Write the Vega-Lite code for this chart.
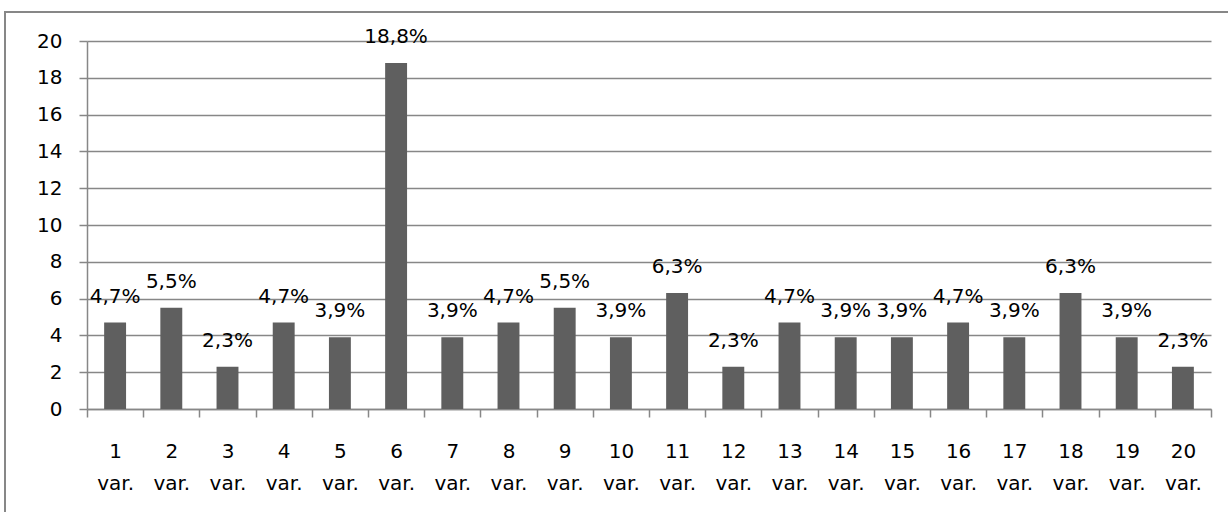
{
  "$schema": "https://vega.github.io/schema/vega-lite/v6.json",
  "width": 1223,
  "height": 500,
  "autosize": {"type": "none"},
  "padding": {"left": 5, "top": 12, "right": 0, "bottom": 0},
  "background": "white",
  "config": {
    "view": {"stroke": "#878787", "strokeWidth": 2, "strokeDash": [1223, 1723, 500]},
    "locale": {"number": {"decimal": ",", "thousands": " ", "grouping": [3], "currency": ["", ""]}},
    "font": "DejaVu Sans"
  },
  "data": {
    "values": [
      {"cat": "1", "value": 4.7},
      {"cat": "2", "value": 5.5},
      {"cat": "3", "value": 2.3},
      {"cat": "4", "value": 4.7},
      {"cat": "5", "value": 3.9},
      {"cat": "6", "value": 18.8},
      {"cat": "7", "value": 3.9},
      {"cat": "8", "value": 4.7},
      {"cat": "9", "value": 5.5},
      {"cat": "10", "value": 3.9},
      {"cat": "11", "value": 6.3},
      {"cat": "12", "value": 2.3},
      {"cat": "13", "value": 4.7},
      {"cat": "14", "value": 3.9},
      {"cat": "15", "value": 3.9},
      {"cat": "16", "value": 4.7},
      {"cat": "17", "value": 3.9},
      {"cat": "18", "value": 6.3},
      {"cat": "19", "value": 3.9},
      {"cat": "20", "value": 2.3}
    ]
  },
  "transform": [{"calculate": "format(datum.value, '.1f') + '%'", "as": "label"}],
  "encoding": {
    "x": {
      "field": "cat",
      "type": "nominal",
      "sort": null,
      "scale": {"range": [82, 1206], "paddingInner": 0, "paddingOuter": 0},
      "axis": {
        "orient": "bottom",
        "offset": -103,
        "title": null,
        "labelAngle": 0,
        "tickBand": "extent",
        "tickSize": 8,
        "tickColor": "#878787",
        "tickWidth": 1.5,
        "domainColor": "#878787",
        "domainWidth": 1.5,
        "labelFont": "DejaVu Sans",
        "labelFontSize": 20,
        "labelColor": "#000000",
        "labelPadding": 24,
        "labelLineHeight": 32,
        "labelBaseline": "top",
        "labelExpr": "(datum.label == null || datum.label == '') ? '' : [datum.label, 'var.']",
        "grid": false
      }
    },
    "y": {
      "field": "value",
      "type": "quantitative",
      "scale": {"domain": [0, 20], "range": [397, 29], "nice": false},
      "axis": {
        "orient": "left",
        "offset": -82,
        "title": null,
        "values": [0, 2, 4, 6, 8, 10, 12, 14, 16, 18, 20],
        "tickSize": 8,
        "tickColor": "#878787",
        "tickWidth": 1.5,
        "domainColor": "#878787",
        "domainWidth": 1.5,
        "grid": true,
        "gridColor": "#878787",
        "gridWidth": 1.5,
        "labelFont": "DejaVu Sans",
        "labelFontSize": 20,
        "labelColor": "#000000",
        "labelPadding": 17
      }
    }
  },
  "layer": [
    {"mark": {"type": "bar", "color": "#5f5f5f", "width": {"band": 0.39}}},
    {
      "mark": {"type": "text", "baseline": "alphabetic", "dy": -20, "font": "DejaVu Sans", "fontSize": 20, "color": "#000000"},
      "encoding": {"text": {"field": "label"}}
    }
  ]
}
